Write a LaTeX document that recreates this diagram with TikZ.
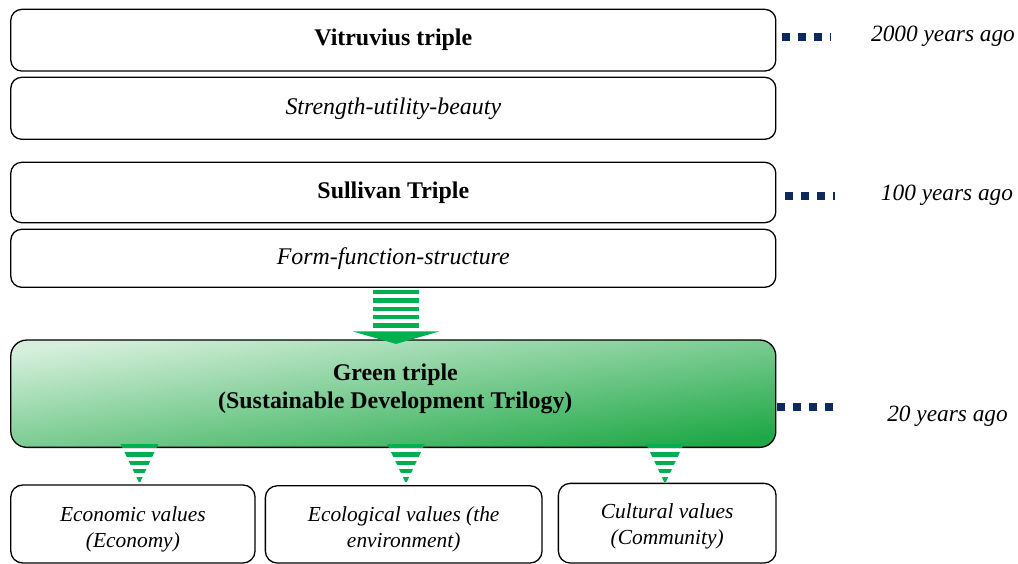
\documentclass[tikz,border=0pt]{standalone}
\usepackage{fontspec}
\setmainfont{Liberation Serif}
\usepackage{tikz}
\usetikzlibrary{positioning,calc}
\definecolor{navy}{HTML}{0E2A5D}
\definecolor{arrowgreen}{HTML}{00B050}
\definecolor{gtop}{HTML}{D5EFDC}
\definecolor{gbot}{HTML}{1FA847}

\tikzset{
  tribox/.style={draw,line width=1.3bp,rounded corners=11bp,
    minimum width=765bp,inner sep=0pt},
  titletxt/.style={font=\fontsize{24}{28}\selectfont\bfseries},
  subtxt/.style={font=\fontsize{24}{28}\selectfont\itshape},
  valbox/.style={draw,line width=1.3bp,rounded corners=12bp,inner sep=0pt,
    align=center,font=\fontsize{21.5}{26}\selectfont\itshape},
  agolabel/.style={font=\fontsize{23.4}{28}\selectfont\itshape},
  timeline/.style={navy,line width=8bp,dash pattern=on 7.5bp off 8.5bp},
}
\newcommand{\dropby}[1]{\rule{0pt}{\dimexpr 19bp+#1\relax}}

\begin{document}
\begin{tikzpicture}[x=1bp,y=-1bp]
\useasboundingbox (0,0) rectangle (1018,564);

% the three triples
\node[tribox,titletxt,minimum height=61.7bp] (vit) at (393.3,40.2) {Vitruvius triple};
\node[tribox,subtxt,minimum height=62bp] (svb) at (393.3,108.3) {Strength-utility-beauty};
\node[tribox,titletxt,minimum height=60.4bp] (sul) at (393.3,192.5) {Sullivan Triple};
\node[tribox,subtxt,minimum height=58bp] (form) at (393.3,258.3) {Form-function-structure};

\node[tribox,minimum height=107.3bp,rounded corners=16bp,
  top color=gtop,bottom color=gbot,shading angle=8] (green) at (393.3,393.7) {};
\node[titletxt,align=center] (greentxt) at ($(green.center)+(2,-5)$)
  {Green triple\\(Sustainable Development Trilogy)};

% values
\node[valbox,minimum width=244.3bp,minimum height=78bp] (econ) at (132.9,524)
  {\dropby{6bp}Economic values\\(Economy)};
\node[valbox,minimum width=276.7bp,minimum height=77.3bp] (ecol) at (403.7,524.4)
  {\dropby{6bp}Ecological values (the\\environment)};
\node[valbox,minimum width=217.7bp,minimum height=79.7bp] (cult) at (667.2,523.2)
  {\dropby{2bp}Cultural values\\(Community)};

% time line
\node[agolabel] (t2000) at (943,36.5) {2000 years ago};
\node[agolabel] (t100) at (947,195.5) {100 years ago};
\node[agolabel] (t20) at (947.5,416.5) {20 years ago};
\draw[timeline] ([xshift=6bp,yshift=3.2bp]vit.east) -- ++(49,0) coordinate (e2000);
\draw[timeline] ([xshift=9bp,yshift=-3.5bp]sul.east) -- ++(50,0) coordinate (e100);
\draw[timeline] ([xshift=1bp,yshift=-13.3bp]green.east) -- ++(56,0) coordinate (e20);

% big striped arrow
\coordinate (bigtop) at ([xshift=2.7bp,yshift=-2bp]form.south);
\begin{scope}[shift={(bigtop)}]
\foreach \k in {0,...,4}
  \fill[arrowgreen] (-23,\k*8.35) rectangle ++(46,4.3);
\fill[arrowgreen] (-43.5,41.4) -- (43.5,41.4) -- (0,54) -- cycle;
\end{scope}

% small striped arrows
\foreach \b/\dx in {econ/6.6,ecol/2.3,cult/-2.2} {
  \coordinate (\b top) at ($(\b.north |- green.south)+(\dx,-4.3)$);
  \begin{scope}[shift={(\b top)}]
  \clip (-19,0) -- (19,0) -- (0,40) -- cycle;
  \foreach \k in {0,...,4}
    \fill[arrowgreen] (-20,\k*8.4) rectangle ++(40,4.4);
  \end{scope}
}
\end{tikzpicture}
\end{document}
